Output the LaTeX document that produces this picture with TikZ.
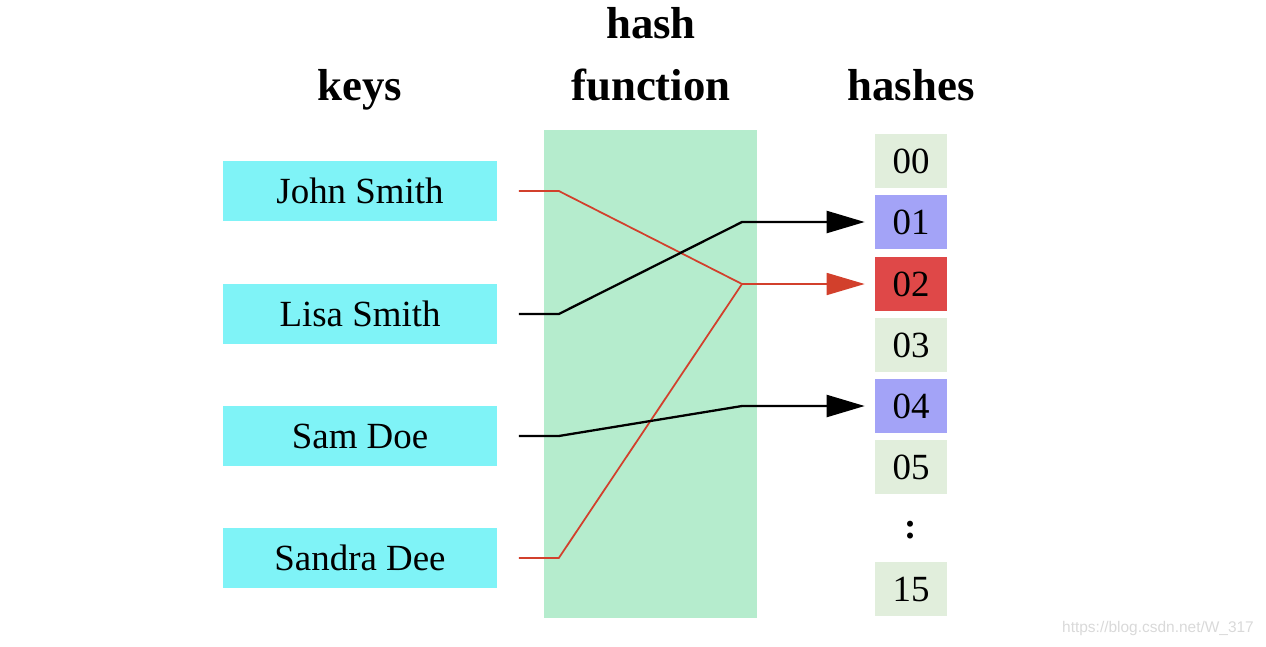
\documentclass[tikz,border=0pt]{standalone}
\usepackage{fontspec}
\setmainfont{Liberation Serif}
\newfontfamily\marksans{Liberation Sans}
\usetikzlibrary{arrows.meta}

\definecolor{keycyan}{HTML}{7FF3F7}
\definecolor{funcgreen}{HTML}{B5ECCD}
\definecolor{slotgray}{HTML}{E1EEDC}
\definecolor{slotblue}{HTML}{A3A3F7}
\definecolor{slotred}{HTML}{DF4848}
\definecolor{linkred}{HTML}{D2402C}

\tikzset{
  keybox/.style={fill=keycyan, minimum width=5.5cm, minimum height=1.2cm, inner sep=0pt, font=\fontsize{21}{25}\selectfont},
  slot/.style={fill=slotgray, minimum width=1.44cm, minimum height=1.08cm, inner sep=0pt, font=\fontsize{21}{25}\selectfont},
  title/.style={anchor=base, font=\bfseries\fontsize{25.5}{30}\selectfont},
  tip/.style={-{Triangle[length=0.76cm,width=0.44cm]}},
}

\begin{document}
\begin{tikzpicture}[x=0.02cm,y=-0.02cm]
    \useasboundingbox (0,0) rectangle (1266,646);

    % Hash function band
    \fill[funcgreen] (544,130) rectangle (757,618);

    % Titles
    \node[title] (keyst) at (360,100) {keys};
    \node[title] (hasht) at (651,38) {hash};
    \node[title] (funct) at (651,100) {function};
    \node[title] (hashest) at (911,100) {hashes};

    % Keys
    \node[keybox] (john) at (360,191) {John Smith};
    \node[keybox] (lisa) at (360,314) {Lisa Smith};
    \node[keybox] (sam) at (360,436) {Sam Doe};
    \node[keybox] (sandra) at (360,558) {Sandra Dee};

    % Hashes
    \node[slot] (h00) at (911,161) {00};
    \node[slot, fill=slotblue] (h01) at (911,222) {01};
    \node[slot, fill=slotred] (h02) at (911,284) {02};
    \node[slot] (h03) at (911,345) {03};
    \node[slot, fill=slotblue] (h04) at (911,406) {04};
    \node[slot] (h05) at (911,467) {05};
    \node[font=\bfseries\fontsize{21}{25}\selectfont] (hdots) at (911,530) {:};
    \node[slot] (h15) at (911,589) {15};

    % Links through the hash function
    \coordinate (merge) at (742,284);
    \draw[linkred, line width=1pt, tip] ([xshift=0.42cm]john.east) -- ++(40,0) -- (merge) -- ([xshift=-0.2cm]h02.west);
    \draw[linkred, line width=1pt] ([xshift=0.42cm]sandra.east) -- ++(40,0) -- (merge);
    \draw[line width=1.3pt, tip] ([xshift=0.42cm]lisa.east) -- ++(40,0) -- (742,222) -- ([xshift=-0.2cm]h01.west);
    \draw[line width=1.3pt, tip] ([xshift=0.42cm]sam.east) -- ++(40,0) -- (742,406) -- ([xshift=-0.2cm]h04.west);

    % Watermark
    \node[font=\marksans\fontsize{8.8}{11}\selectfont, text=black!15] (mark) at (1158,628) {https://blog.csdn.net/W\_317};
\end{tikzpicture}
\end{document}
